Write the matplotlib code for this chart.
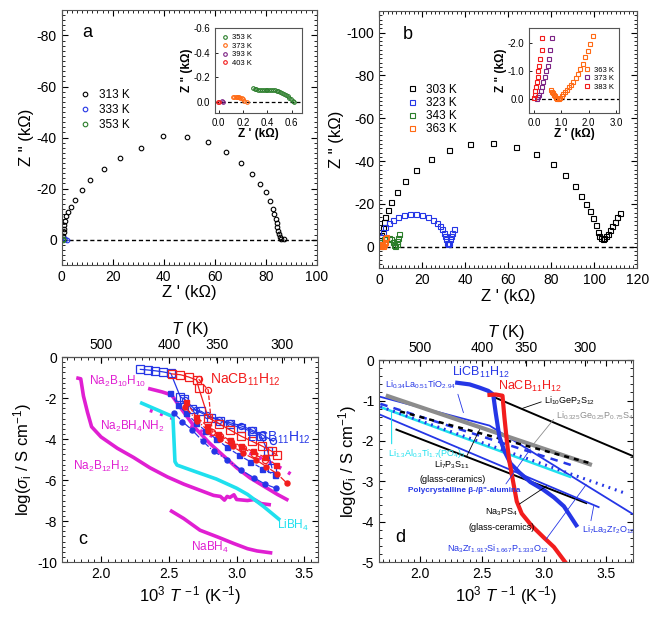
import numpy as np
import matplotlib
matplotlib.use("Agg")
import matplotlib.pyplot as plt
from matplotlib.ticker import MultipleLocator, NullLocator

plt.rcParams['font.family'] = ['Liberation Sans', 'DejaVu Sans']
plt.rcParams['mathtext.fontset'] = 'custom'
plt.rcParams['mathtext.rm'] = 'Liberation Sans'
plt.rcParams['mathtext.it'] = 'Liberation Sans:italic'
plt.rcParams['mathtext.bf'] = 'Liberation Sans:bold'
plt.rcParams['axes.unicode_minus'] = False

#%% panel a data (Z' , -Z'' in kOhm)
a313_x = [0.4, 0.5, 0.7, 0.8, 1.0, 1.3, 1.8, 2.5, 3.5, 5.1, 7.8, 11.2, 16.6, 23.0, 31.0, 39.7,
          49.0, 57.3, 64.4, 70.2, 74.5, 77.9, 80.0, 81.6, 82.7, 83.4, 83.9, 84.3, 84.6, 84.8,
          85.1, 85.5, 86.1, 87.0]
a313_y = [-0.3, -1.6, -2.9, -4.2, -5.9, -7.5, -9.1, -10.8, -12.8, -15.6, -19.3, -23.2, -27.7,
          -31.9, -36.1, -40.7, -40.1, -38.1, -34.4, -30.2, -25.9, -21.9, -18.5, -15.0, -12.1,
          -10.1, -8.1, -6.4, -4.9, -3.5, -2.2, -1.2, -0.4, -0.1]
a333_x = [1.2, 2.0]
a333_y = [-0.2, 0.0]
a353_x = [0.4, 0.6]
a353_y = [-0.1, 0.0]
# inset a
ia353_x = [0.28, 0.295, 0.31, 0.325, 0.34, 0.355, 0.37, 0.385, 0.40, 0.415, 0.43, 0.445,
           0.46, 0.475, 0.49, 0.505, 0.52, 0.535, 0.55, 0.565, 0.58, 0.595, 0.61, 0.62]
ia353_y = [-0.11, -0.105, -0.102, -0.10, -0.10, -0.10, -0.099, -0.098, -0.098, -0.097,
           -0.096, -0.095, -0.093, -0.09, -0.087, -0.082, -0.076, -0.068, -0.058, -0.047,
           -0.035, -0.022, -0.01, 0.0]
ia373_x = [0.12, 0.13, 0.14, 0.15, 0.16, 0.17, 0.18, 0.19, 0.20, 0.21, 0.23]
ia373_y = [-0.037, -0.04, -0.041, -0.041, -0.04, -0.038, -0.034, -0.028, -0.02, -0.01, 0.0]
ia393_x = [0.025, 0.035]
ia393_y = [-0.005, 0.0]
ia403_x = [-0.005, 0.008]
ia403_y = [-0.002, 0.0]

#%% panel b data
b303_x = [0.6, 1.0, 1.6, 2.2, 2.9, 4.0, 5.6, 8.4, 12.1, 17.2, 24.0, 32.4, 42.3, 53.0, 63.6,
          72.7, 80.6, 86.4, 90.9, 94.0, 96.1, 98.0, 99.4, 100.6, 101.6, 102.3, 103.1, 103.9,
          104.7, 105.4, 106.2, 107.3, 108.4, 109.6, 110.7, 111.8]
b303_y = [-2.4, -5.5, -8.6, -11.4, -14.1, -17.2, -21.0, -25.5, -30.7, -35.7, -40.9, -45.1,
          -47.8, -48.4, -46.7, -43.3, -38.6, -33.5, -28.5, -23.8, -20.0, -16.5, -13.3, -10.2,
          -7.1, -5.2, -3.9, -3.6, -3.9, -4.9, -6.1, -7.8, -9.9, -11.8, -13.9, -16.0]
b323_x = [0.3, 1.1, 1.9, 2.9, 4.5, 6.5, 8.8, 11.5, 14.3, 17.2, 20.0, 22.6, 25.0, 26.7, 28.2,
          29.3, 30.2, 30.8, 31.3, 31.6, 31.9, 32.4, 32.9, 33.3, 33.9, 34.6]
b323_y = [-2.4, -4.7, -7.0, -9.1, -11.0, -12.5, -13.8, -14.7, -15.2, -15.2, -14.7, -13.9,
          -12.7, -11.3, -9.7, -8.2, -6.6, -5.0, -3.6, -2.0, -1.3, -2.0, -3.6, -5.0, -6.6, -8.2]
b343_x = [0.3, 1.1, 2.2, 3.4, 4.7, 5.7, 6.5, 7.1, 7.6, 8.1, 8.5, 9.0, 9.3]
b343_y = [-0.5, -2.4, -3.6, -4.2, -4.2, -3.6, -2.4, -0.8, -0.3, -1.3, -2.7, -4.2, -5.8]
b363_x = [0.2, 0.5, 0.9, 1.3, 1.8, 2.3, 2.6, 2.9, 3.1]
b363_y = [-0.3, -0.8, -1.1, -1.0, -0.6, -1.2, -2.4, -3.9, -4.7]
# inset b
ib363_x = [0.62, 0.66, 0.70, 0.74, 0.78, 0.82, 0.86, 0.90, 0.96, 1.02, 1.08, 1.14, 1.20,
           1.27, 1.35, 1.43, 1.52, 1.61, 1.70, 1.79, 1.88, 1.97, 2.06, 2.15]
ib363_y = [-0.33, -0.27, -0.21, -0.15, -0.10, -0.05, -0.02, 0.0, -0.05, -0.1, -0.17, -0.25,
           -0.33, -0.42, -0.52, -0.63, -0.75, -0.9, -1.07, -1.27, -1.5, -1.73, -1.97, -2.25]
ib373_x = [0.10, 0.15, 0.20, 0.25, 0.30, 0.35, 0.40, 0.45, 0.50, 0.55, 0.60, 0.65]
ib373_y = [-0.02, -0.08, -0.15, -0.3, -0.45, -0.6, -0.8, -1.0, -1.2, -1.45, -1.75, -2.2]
ib383_x = [0.02, 0.04, 0.06, 0.08, 0.11, 0.14, 0.17, 0.20, 0.24, 0.28, 0.30]
ib383_y = [-0.05, -0.15, -0.3, -0.45, -0.6, -0.8, -1.0, -1.2, -1.45, -1.75, -2.2]

#%% panel c data (1000/T, log sigma)
na2b12_x = [1.83, 1.85, 1.87, 1.90, 1.93, 2.0, 2.12, 2.24, 2.36, 2.49, 2.61, 2.73, 2.83, 2.88,
            2.91, 2.93, 2.95, 2.98, 3.0, 3.08, 3.13, 3.18, 3.24]
na2b12_y = [-1.03, -1.06, -1.9, -2.7, -3.4, -3.9, -4.45, -4.9, -5.4, -5.85, -6.2, -6.5,
            -6.75, -6.8, -6.98, -6.8, -6.85, -6.72, -6.95, -7.0, -6.95, -7.15, -7.2]
na2b10_x = [2.36, 2.45, 2.52, 2.60, 2.70, 2.80, 2.90, 3.0, 3.1, 3.2, 3.3, 3.37]
na2b10_y = [-1.55, -1.7, -1.85, -2.6, -3.5, -4.2, -4.8, -5.4, -5.9, -6.3, -6.7, -6.95]
na2bh4nh2_x = [2.36, 2.45, 2.55, 2.65, 2.75, 2.85, 2.95, 3.05, 3.15, 3.25, 3.35, 3.42]
na2bh4nh2_y = [-2.6, -2.8, -3.05, -3.35, -3.65, -3.95, -4.25, -4.55, -4.85, -5.15, -5.5, -5.8]
libh4_x = [2.30, 2.51, 2.53, 2.545, 2.56, 2.7, 2.85, 3.0, 3.08, 3.2, 3.31]
libh4_y = [-2.25, -2.85, -2.92, -5.1, -5.27, -5.6, -5.95, -6.4, -6.7, -7.3, -7.9]
nabh4_x = [2.52, 2.61, 2.73, 2.86, 2.98, 3.08, 3.15, 3.25]
nabh4_y = [-7.52, -7.88, -8.45, -8.78, -9.1, -9.35, -9.46, -9.55]

li_sq_open_x = [2.29, 2.345, 2.40, 2.455, 2.515, 2.585, 2.615, 2.67, 2.74, 2.81, 2.88, 2.95,
                3.03, 3.11, 3.18, 3.23, 3.26]
li_sq_open_y = [-0.60, -0.63, -0.67, -0.72, -0.80, -1.95, -2.05, -2.55, -2.65, -2.95, -3.10,
                -3.28, -3.45, -3.62, -3.85, -4.6, -5.4]
li_ci_open_x = [2.62, 2.70, 2.78, 2.87, 2.95, 3.03, 3.11, 3.19, 3.27]
li_ci_open_y = [-2.1, -2.6, -2.85, -3.05, -3.2, -3.35, -3.55, -3.8, -4.1]
li_sq_fill_x = [2.51, 2.57, 2.63, 2.70, 2.77, 2.85, 2.93, 3.02, 3.10, 3.19, 3.28]
li_sq_fill_y = [-1.75, -2.35, -2.75, -3.2, -3.6, -4.0, -4.4, -4.8, -5.1, -5.45, -5.75]
li_ci_fill_x = [2.54, 2.60, 2.67, 2.75, 2.83, 2.93, 3.03, 3.13, 3.21, 3.29]
li_ci_fill_y = [-2.75, -3.15, -3.55, -4.1, -4.6, -5.0, -5.5, -5.9, -6.2, -6.4]
na_sq_open_x = [2.52, 2.585, 2.645, 2.705, 2.72, 2.79, 2.87, 2.95, 3.03, 3.11, 3.19, 3.26, 3.30]
na_sq_open_y = [-0.82, -0.86, -0.97, -1.12, -1.5, -2.95, -3.25, -3.55, -3.85, -4.1, -4.35,
                -4.6, -4.8]
na_ci_open_x = [2.72, 2.79, 2.82, 2.88, 2.96, 3.05, 3.13, 3.21]
na_ci_open_y = [-1.08, -1.6, -3.65, -3.85, -4.15, -4.45, -4.75, -5.0]
na_sq_fill_x = [2.63, 2.70, 2.78, 2.86, 2.95, 3.03, 3.12, 3.21, 3.29]
na_sq_fill_y = [-2.2, -2.9, -3.35, -3.75, -4.05, -4.35, -4.6, -4.9, -5.25]
na_ci_fill_x = [2.62, 2.71, 2.79, 2.88, 2.97, 3.05, 3.14, 3.22, 3.30, 3.37]
na_ci_fill_y = [-2.45, -3.1, -3.6, -4.0, -4.35, -4.7, -5.0, -5.35, -5.7, -6.15]

#%% panel d data
licb_x = [2.30, 2.40, 2.48, 2.55, 2.59, 2.61, 2.64, 2.68, 2.73, 2.80, 2.89, 2.99, 3.08, 3.16, 3.26]
licb_y = [-0.56, -0.6, -0.68, -0.76, -0.85, -1.3, -1.9, -2.25, -2.56, -2.78, -3.02, -3.2,
          -3.4, -3.62, -4.09]
nacb_x = [2.56, 2.61, 2.665, 2.68, 2.70, 2.72, 2.75, 2.78, 2.82, 2.90, 3.0, 3.08, 3.17]
nacb_y = [-0.86, -0.85, -0.88, -1.4, -2.0, -2.5, -3.0, -3.5, -3.8, -4.1, -4.4, -4.63, -5.0]
lgps_x = [2.60, 3.72]
lgps_y = [-0.92, -2.38]
lgps_s_x = [1.74, 3.37]
lgps_s_y = [-0.89, -2.58]
lps_x = [1.84, 3.37]
lps_y = [-1.27, -2.55]
latp_x = [1.68, 3.21]
latp_y = [-1.16, -2.89]
balumina_x = [1.68, 3.22]
balumina_y = [-1.08, -2.6]
nasicon_x = [1.68, 3.64]
nasicon_y = [-1.15, -3.28]
llto_x = [1.67, 2.56, 3.72]
llto_y = [-0.9, -1.62, -3.82]
llzo_x = [1.67, 3.44]
llzo_y = [-1.34, -3.64]
nps_x = [1.81, 3.34]
nps_y = [-1.72, -3.54]

BLUE = '#2536e6'
RED = '#f21d1d'
MAG = '#e01fd2'
CYAN = '#1fe0ee'
GREEN = '#2a7d2a'
ORANGE = '#ff6a14'
PURPLE = '#7d2485'

fig = plt.figure(figsize=(6.57, 6.21), dpi=100)


def style(ax, xmin, ymin):
    ax.tick_params(which='both', direction='in', top=True, right=True, labelsize=10)
    ax.tick_params(which='major', length=4, width=0.8)
    ax.tick_params(which='minor', length=2, width=0.6)
    ax.xaxis.set_minor_locator(MultipleLocator(xmin))
    ax.yaxis.set_minor_locator(MultipleLocator(ymin))
    for s in ax.spines.values():
        s.set_color('#555555')


def inv(x):
    x = np.asarray(x, dtype=float)
    with np.errstate(divide='ignore', invalid='ignore'):
        return 1000.0 / x


# ---------------- a
ax = fig.add_axes([0.094, 0.573, 0.388, 0.411])
mk = dict(marker='o', ms=3.3, mfc='none', mew=0.8, ls='none')
ax.plot(a313_x, a313_y, color='k', label='313 K', **mk)
ax.plot(a333_x, a333_y, color=BLUE, label='333 K', **mk)
ax.plot(a353_x, a353_y, color=GREEN, label='353 K', **mk)
ax.axhline(0, color='k', ls='--', lw=1, dashes=(3, 2), zorder=0)
ax.set_xlim(0, 100)
ax.set_ylim(10, -90)
ax.xaxis.set_major_locator(MultipleLocator(20))
ax.yaxis.set_major_locator(MultipleLocator(20))
style(ax, 2, 2)
ax.set_xlabel("Z ' (k\u03a9)", fontsize=12, labelpad=1)
ax.set_ylabel('Z " (k\u03a9)', fontsize=12, labelpad=2)
ax.text(8, -81, 'a', fontsize=13, va='center')
ax.legend(loc='upper left', bbox_to_anchor=(0.02, 0.73), frameon=False, fontsize=8.5,
          handletextpad=0.6, labelspacing=0.25, handlelength=1.2)

ia = fig.add_axes([0.327, 0.818, 0.132, 0.137])
mk2 = dict(marker='o', ms=2.6, mfc='none', mew=0.8, ls='none')
ia.plot(ia353_x, ia353_y, color=GREEN, label='353 K', **mk2)
ia.plot(ia373_x, ia373_y, color=ORANGE, label='373 K', **mk2)
ia.plot(ia393_x, ia393_y, color=PURPLE, label='393 K', **mk2)
ia.plot(ia403_x, ia403_y, color=RED, label='403 K', **mk2)
ia.axhline(0, color='k', ls='--', lw=0.9, dashes=(3, 2), zorder=0)
ia.set_xlim(-0.03, 0.68)
ia.set_ylim(0.09, -0.6)
ia.xaxis.set_major_locator(MultipleLocator(0.2))
ia.yaxis.set_major_locator(MultipleLocator(0.2))
ia.tick_params(which='both', direction='in', labelsize=7, length=2.5, width=0.6)
ia.set_xlabel("Z ' (k\u03a9)", fontsize=8.5, fontweight='bold', labelpad=0)
ia.set_ylabel('Z " (k\u03a9)', fontsize=8.5, fontweight='bold', labelpad=0)
ia.legend(loc='upper left', frameon=False, fontsize=5.5, handletextpad=0.4,
          labelspacing=0.15, handlelength=1.0, borderpad=0.3)
for s in ia.spines.values():
    s.set_color('#555555')

# ---------------- b
bx = fig.add_axes([0.577, 0.568, 0.393, 0.414])
mk = dict(marker='s', ms=3.6, mfc='none', mew=0.8, ls='none')
bx.plot(b303_x, b303_y, color='k', label='303 K', **mk)
bx.plot(b323_x, b323_y, color=BLUE, label='323 K', **mk)
bx.plot(b343_x, b343_y, color=GREEN, label='343 K', **mk)
bx.plot(b363_x, b363_y, color=ORANGE, label='363 K', **mk)
bx.axhline(0, color='k', ls='--', lw=1, dashes=(3, 2), zorder=0)
bx.set_xlim(0, 120)
bx.set_ylim(10, -110)
bx.xaxis.set_major_locator(MultipleLocator(20))
bx.yaxis.set_major_locator(MultipleLocator(20))
style(bx, 2, 2)
bx.set_xlabel("Z ' (k\u03a9)", fontsize=12, labelpad=1)
bx.set_ylabel('Z " (k\u03a9)', fontsize=12, labelpad=2)
bx.text(11, -99, 'b', fontsize=13, va='center')
bx.legend(loc='upper left', bbox_to_anchor=(0.06, 0.76), frameon=False, fontsize=8.5,
          handletextpad=0.6, labelspacing=0.1, handlelength=1.2)

ib = fig.add_axes([0.805, 0.818, 0.137, 0.137])
mk2 = dict(marker='s', ms=2.8, mfc='none', mew=0.8, ls='none')
ib.plot(ib363_x, ib363_y, color=ORANGE, label='363 K', **mk2)
ib.plot(ib373_x, ib373_y, color=PURPLE, label='373 K', **mk2)
ib.plot(ib383_x, ib383_y, color=RED, label='383 K', **mk2)
ib.axhline(0, color='k', ls='--', lw=0.9, dashes=(3, 2), zorder=0)
ib.set_xlim(-0.18, 3.1)
ib.set_ylim(0.5, -2.55)
ib.xaxis.set_major_locator(MultipleLocator(1.0))
ib.yaxis.set_major_locator(MultipleLocator(1.0))
ib.xaxis.set_major_formatter(plt.FormatStrFormatter('%.1f'))
ib.yaxis.set_major_formatter(plt.FormatStrFormatter('%.1f'))
ib.tick_params(which='both', direction='in', labelsize=7, length=2.5, width=0.6)
ib.set_xlabel("Z ' (k\u03a9)", fontsize=8.5, fontweight='bold', labelpad=0)
ib.set_ylabel('Z " (k\u03a9)', fontsize=8.5, fontweight='bold', labelpad=0)
ib.legend(loc='lower right', bbox_to_anchor=(1.0, 0.2), frameon=False, fontsize=5.5,
          handletextpad=0.4, labelspacing=0.15, handlelength=1.0, borderpad=0.2)
for s in ib.spines.values():
    s.set_color('#555555')

# ---------------- c
cx = fig.add_axes([0.094, 0.095, 0.390, 0.330])
cx.plot(na2b12_x, na2b12_y, color=MAG, lw=2.6)
cx.plot(na2b10_x, na2b10_y, color=MAG, lw=2.6)
cx.plot(na2bh4nh2_x, na2bh4nh2_y, color=MAG, lw=2.6, ls=(0, (0.8, 2.2)))
cx.plot(libh4_x, libh4_y, color=CYAN, lw=2.6)
cx.plot(nabh4_x, nabh4_y, color=MAG, lw=2.6)
cx.plot(li_sq_fill_x, li_sq_fill_y, color=BLUE, ls='--', lw=0.9, marker='s', ms=3.6, mfc=BLUE)
cx.plot(li_ci_fill_x, li_ci_fill_y, color=BLUE, ls='-.', lw=0.9, marker='o', ms=3.6, mfc=BLUE)
cx.plot(li_sq_open_x, li_sq_open_y, color=BLUE, ls='-', lw=0.9, marker='s', ms=5.2,
        mfc='none', mew=0.9)
cx.plot(li_ci_open_x, li_ci_open_y, color=BLUE, ls='-', lw=0.9, marker='o', ms=4.4,
        mfc='none', mew=0.9)
cx.plot(na_sq_fill_x, na_sq_fill_y, color=RED, ls='--', lw=0.9, marker='s', ms=3.6, mfc=RED)
cx.plot(na_ci_fill_x, na_ci_fill_y, color=RED, ls='-.', lw=0.9, marker='o', ms=3.6, mfc=RED)
cx.plot(na_sq_open_x, na_sq_open_y, color=RED, ls='-', lw=0.9, marker='s', ms=5.2,
        mfc='none', mew=0.9)
cx.plot(na_ci_open_x, na_ci_open_y, color=RED, ls='--', lw=0.9, marker='o', ms=4.4,
        mfc='none', mew=0.9)
cx.set_xlim(1.71, 3.6)
cx.set_ylim(-10, 0)
cx.xaxis.set_major_locator(MultipleLocator(0.5))
cx.yaxis.set_major_locator(MultipleLocator(2))
cx.xaxis.set_major_formatter(plt.FormatStrFormatter('%.1f'))
style(cx, 0.05, 0.25)
cx.set_xlabel(r'10$^3$ $T^{\,-1}$ (K$^{-1}$)', fontsize=12, labelpad=2)
cx.set_ylabel(r'log($\sigma_{\rm i}$ / S cm$^{-1}$)', fontsize=12, labelpad=2)
cs = cx.secondary_xaxis('top', functions=(inv, inv))
cs.set_xticks([500, 400, 350, 300])
cs.xaxis.set_minor_locator(NullLocator())
cs.tick_params(direction='in', length=4, labelsize=10)
cs.set_xlabel(r'$T$ (K)', fontsize=12, labelpad=3)
cx.text(1.83, -8.9, 'c', fontsize=13, va='center')
cx.text(1.91, -1.2, r'Na$_2$B$_{10}$H$_{10}$', color=MAG, fontsize=8.5, va='center')
cx.text(1.99, -3.4, r'Na$_2$BH$_4$NH$_2$', color=MAG, fontsize=8.5, va='center')
cx.text(1.79, -5.35, r'Na$_2$B$_{12}$H$_{12}$', color=MAG, fontsize=8.5, va='center')
cx.text(2.80, -1.1, r'NaCB$_{11}$H$_{12}$', color=RED, fontsize=10, va='center')
cx.text(3.08, -3.9, r'LiCB$_{11}$H$_{12}$', color=BLUE, fontsize=10, va='center')
cx.text(3.30, -8.2, r'LiBH$_4$', color=CYAN, fontsize=8.5, va='center')
cx.text(2.66, -9.3, r'NaBH$_4$', color=MAG, fontsize=8.5, va='center')

# ---------------- d
dx = fig.add_axes([0.577, 0.095, 0.387, 0.325])
dx.plot(lgps_x, lgps_y, color='k', lw=1.4)
dx.plot(nps_x, nps_y, color='k', lw=1.4)
dx.plot(llzo_x, llzo_y, color=BLUE, lw=1.3)
dx.plot(llto_x, llto_y, color=BLUE, lw=1.3)
dx.plot(latp_x, latp_y, color=CYAN, lw=1.8)
dx.plot(nasicon_x, nasicon_y, color=BLUE, lw=2.2, ls=(0, (0.6, 1.6)))
dx.plot(balumina_x, balumina_y, color=BLUE, lw=1.8, ls=(0, (3, 2.5)))
dx.plot(lgps_s_x, lgps_s_y, color='#8c8c8c', lw=3)
dx.plot(lps_x, lps_y, color='k', lw=1.8, ls=(0, (2, 2)))
dx.plot(licb_x, licb_y, color=BLUE, lw=3)
dx.plot(nacb_x, nacb_y, color=RED, lw=3)
dx.set_xlim(1.67, 3.72)
dx.set_ylim(-5, 0)
dx.xaxis.set_major_locator(MultipleLocator(0.5))
dx.yaxis.set_major_locator(MultipleLocator(1))
dx.xaxis.set_major_formatter(plt.FormatStrFormatter('%.1f'))
style(dx, 0.05, 0.2)
dx.set_xlabel(r'10$^3$ $T^{\,-1}$ (K$^{-1}$)', fontsize=12, labelpad=2)
dx.set_ylabel(r'log($\sigma_{\rm i}$ / S cm$^{-1}$)', fontsize=12, labelpad=2)
ds = dx.secondary_xaxis('top', functions=(inv, inv))
ds.set_xticks([500, 400, 350, 300])
ds.xaxis.set_minor_locator(NullLocator())
ds.tick_params(direction='in', length=4, labelsize=10)
ds.set_xlabel(r'$T$ (K)', fontsize=12, labelpad=3)
dx.text(1.80, -4.4, 'd', fontsize=13, va='center')
dx.text(2.26, -0.3, r'LiCB$_{11}$H$_{12}$', color=BLUE, fontsize=9, va='center')
dx.text(2.63, -0.66, r'NaCB$_{11}$H$_{12}$', color=RED, fontsize=9, va='center')
small = 6.5
dx.annotate(r'Li$_{0.34}$La$_{0.51}$TiO$_{2.94}$', xy=(2.35, -1.3), xytext=(1.72, -0.62),
            color=BLUE, fontsize=small, va='center',
            arrowprops=dict(arrowstyle='-', color=BLUE, lw=0.6, shrinkA=0, shrinkB=0,
                            relpos=(1, 0.2)))
dx.annotate(r'Li$_{10}$GeP$_2$S$_{12}$', xy=(2.82, -1.2), xytext=(3.0, -1.01),
            color='k', fontsize=small, va='center',
            arrowprops=dict(arrowstyle='-', color='k', lw=0.6, shrinkA=0, shrinkB=0,
                            relpos=(0, 0.5)))
dx.annotate(r'Li$_{0.325}$Ge$_{0.25}$P$_{0.75}$S$_4$', xy=(2.91, -2.1), xytext=(3.10, -1.38),
            color='#8c8c8c', fontsize=small, va='center',
            arrowprops=dict(arrowstyle='-', color='#8c8c8c', lw=0.6, shrinkA=0, shrinkB=0,
                            relpos=(0, 0.5)))
dx.annotate(r'Li$_{1.3}$Al$_{0.3}$Ti$_{1.7}$(PO$_4$)$_3$', xy=(1.77, -1.25),
            xytext=(1.74, -2.3), color=CYAN, fontsize=small, va='center',
            arrowprops=dict(arrowstyle='-', color=CYAN, lw=0.8, shrinkA=0, shrinkB=0,
                            relpos=(0.05, 1)))
dx.annotate('Li$_7$P$_3$S$_{11}$\n(glass-ceramics)', xy=(2.48, -1.72), xytext=(2.26, -2.76),
            color='k', fontsize=small, ha='center', va='center', linespacing=1.6,
            arrowprops=dict(arrowstyle='-', color='k', lw=0.6, shrinkA=0, shrinkB=0,
                            relpos=(0.7, 1)))
dx.annotate('Polycrystalline \u03b2-/\u03b2"-alumina', xy=(2.89, -2.2), xytext=(2.36, -3.22),
            color=BLUE, fontsize=5.9, fontweight='bold', ha='center', va='center',
            arrowprops=dict(arrowstyle='-', color=BLUE, lw=0.6, shrinkA=0, shrinkB=0,
                            relpos=(0.85, 1)))
dx.annotate('Na$_3$PS$_4$\n(glass-ceramics)', xy=(3.02, -3.12), xytext=(2.66, -3.94),
            color='k', fontsize=small, ha='center', va='center', linespacing=1.6,
            arrowprops=dict(arrowstyle='-', color='k', lw=0.6, shrinkA=0, shrinkB=0,
                            relpos=(0.7, 1)))
dx.annotate(r'Li$_7$La$_3$Zr$_2$O$_{12}$', xy=(3.40, -3.62), xytext=(3.31, -4.2),
            color=BLUE, fontsize=small, va='center',
            arrowprops=dict(arrowstyle='-', color=BLUE, lw=0.6, shrinkA=0, shrinkB=0,
                            relpos=(0.15, 1)))
dx.annotate(r'Na$_3$Zr$_{1.917}$Si$_{1.667}$P$_{1.333}$O$_{12}$', xy=(3.34, -3.08),
            xytext=(2.63, -4.66), color=BLUE, fontsize=small, ha='center', va='center',
            arrowprops=dict(arrowstyle='-', color=BLUE, lw=0.6, shrinkA=0, shrinkB=0,
                            relpos=(0.95, 1)))

plt.savefig('out.png', dpi=100)
